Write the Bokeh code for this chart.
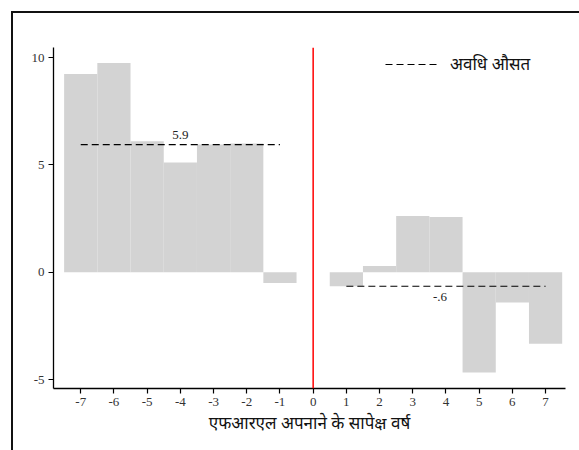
import numpy as np
from bokeh.plotting import figure
from bokeh.layouts import column
from bokeh.models import ColumnDataSource, Span, Legend, LegendItem, FixedTicker
from bokeh.core.properties import value
from bokeh.embed import file_html
from bokeh.resources import INLINE

# ---- data ----
pre_years = [-7, -6, -5, -4, -3, -2, -1]
pre_values = [9.24, 9.75, 6.10, 5.12, 5.95, 6.00, -0.50]
post_years = [1, 2, 3, 4, 5, 6, 7]
post_values = [-0.65, 0.30, 2.62, 2.58, -4.66, -1.40, -3.33]
mean_labels = ["5.9", "-.6"]
x_ticks = [-7, -6, -5, -4, -3, -2, -1, 0, 1, 2, 3, 4, 5, 6, 7]
y_ticks = [-5, 0, 5, 10]
x_title = "एफआरएल अपनाने के सापेक्ष वर्ष"
legend_text = "अवधि औसत"

years = pre_years + post_years
vals = pre_values + post_values
bars = ColumnDataSource(dict(x=years, top=vals))

pre_mean = float(np.mean(pre_values))
post_mean = float(np.mean(post_values))

p = figure(width=579, height=450, output_backend="svg", toolbar_location=None,
           x_range=(-7.82, 7.6), y_range=(-5.41, 10.47),
           min_border_left=53, min_border_right=14, min_border_top=47, min_border_bottom=62)
p.outline_line_color = None
p.xgrid.visible = False
p.ygrid.visible = False
p.border_fill_alpha = 0

p.vbar(x="x", top="top", bottom=0, width=1.0, source=bars,
       fill_color="#d3d3d3", line_color=None)

# mean lines
pre_line = p.line(x=[pre_years[0], pre_years[-1]], y=[pre_mean, pre_mean],
                  line_color="black", line_width=1.2, line_dash="7 4")
p.line(x=[post_years[0], post_years[-1]], y=[post_mean, post_mean],
       line_color="black", line_width=1.2, line_dash="7 4")

lab_src = ColumnDataSource(dict(
    x=[np.mean([pre_years[0], pre_years[-1]]), np.mean([post_years[0], post_years[-1]])],
    y=[pre_mean, post_mean], text=mean_labels,
    yo=[-6, 7], xo=[0, -6], base=["bottom", "top"]))
p.text(x="x", y="y", text="text", source=lab_src, x_offset="xo", y_offset="yo",
       text_align="center", text_baseline="base", text_font=value("Liberation Serif"),
       text_font_size="13px", text_color="#222222")

# red vertical line at 0
p.add_layout(Span(location=0, dimension="height", line_color="red", line_width=1.5))

# axes
for ax in (p.xaxis[0], p.yaxis[0]):
    ax.axis_line_color = "black"
    ax.axis_line_width = 1.3
    ax.major_tick_line_color = "black"
    ax.major_tick_line_width = 1.2
    ax.major_tick_in = 0
    ax.major_tick_out = 5
    ax.minor_tick_line_color = None
    ax.major_label_text_font = "Liberation Serif"
    ax.major_label_text_font_size = "13px"
    ax.major_label_text_color = "#333333"
    ax.major_label_standoff = 4

p.xaxis.ticker = FixedTicker(ticks=x_ticks)
p.yaxis.ticker = FixedTicker(ticks=y_ticks)
p.xaxis.major_label_overrides = {t: str(t) for t in x_ticks}
p.yaxis.major_label_overrides = {t: str(t) for t in y_ticks}
p.xaxis.axis_label = x_title
p.xaxis.axis_label_text_font = "Noto Sans"
p.xaxis.axis_label_text_font_size = "17px"
p.xaxis.axis_label_text_font_style = "normal"
p.xaxis.axis_label_text_color = "#111"
p.xaxis.axis_label_standoff = 2

legend = Legend(items=[LegendItem(label=legend_text, renderers=[pre_line])],
                location=(332, 313), padding=0, margin=0, spacing=0,
                glyph_width=54, glyph_height=20, label_height=20, label_standoff=11,
                label_text_font="Noto Sans", label_text_font_size="17px",
                label_text_color="#111",
                border_line_color=None, background_fill_alpha=0)
p.add_layout(legend, "center")

# outer graph-region border (only its top and left edges fall inside the window)
page = column(p, width=579, height=450, styles={
    "background-color": "#ffffff",
    "background-image": "linear-gradient(#111, #111), linear-gradient(#111, #111)",
    "background-size": "2px 439px, 568px 2px",
    "background-position": "11px 11px, 11px 11px",
    "background-repeat": "no-repeat",
    "overflow": "hidden",
})

open("out.html", "w").write(file_html(page, INLINE))
